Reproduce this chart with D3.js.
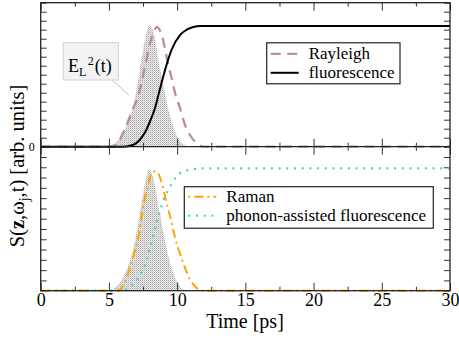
<!DOCTYPE html>
<html lang="en">
<head>
    <meta charset="UTF-8">
    <title>Rayleigh, Raman and fluorescence signals</title>
    <style>
        body { margin: 0; background: #fff; }
        svg { display: block; }
    </style>
</head>
<body>
<svg width="459" height="338"></svg>

<script src="https://cdn.jsdelivr.net/npm/d3@7"></script>
<script>
    // values, [time in ps, signal in arb. units]
    const laserTop = [[0,0],[4.8,0],[5.3,0.03],[5.81,0.09],[6.1,0.17],[6.42,0.28],[6.79,0.46],[7.04,0.65],[7.28,0.87],[7.52,1.09],[7.77,1.28],[7.96,1.35],[8.26,1.28],[8.5,1.09],[8.74,0.87],[8.99,0.69],[9.23,0.5],[9.6,0.28],[9.85,0.17],[10.09,0.09],[10.5,0.025],[10.94,0],[30,0]];
    const rayleigh = [[0,0],[5.3,0],[5.8,0.08],[6.18,0.2],[6.79,0.43],[7.16,0.57],[7.4,0.72],[7.7,0.93],[8.0,1.14],[8.26,1.26],[8.5,1.33],[8.87,1.24],[9.11,1.09],[9.35,0.91],[9.6,0.76],[9.84,0.6],[10.21,0.43],[10.58,0.24],[10.94,0.13],[11.43,0.04],[11.9,0],[30,0]];
    const fluorescence = [[0,0],[6.0,0],[6.55,0.01],[7.0,0.04],[7.28,0.08],[7.65,0.16],[8.01,0.28],[8.38,0.43],[8.74,0.64],[9.11,0.85],[9.6,1.08],[10.21,1.24],[10.7,1.3],[11.19,1.33],[11.7,1.34],[30,1.34]];

    const laserBottom = [[0,0],[5.0,0],[5.4,0.025],[5.81,0.08],[6.1,0.15],[6.42,0.25],[6.79,0.41],[7.04,0.58],[7.28,0.77],[7.52,0.96],[7.77,1.12],[7.92,1.18],[8.2,1.12],[8.45,0.96],[8.7,0.77],[8.95,0.6],[9.2,0.43],[9.55,0.24],[9.8,0.14],[10.05,0.07],[10.4,0.02],[10.8,0],[30,0]];
    const raman = [[0,0],[5.6,0],[5.81,0.01],[6.42,0.17],[6.79,0.33],[7.16,0.525],[7.4,0.72],[7.65,0.91],[7.89,1.04],[8.14,1.14],[8.35,1.16],[8.6,1.14],[8.87,1.05],[9.11,0.92],[9.35,0.79],[9.6,0.66],[9.84,0.52],[10.21,0.36],[10.58,0.22],[10.94,0.11],[11.31,0.045],[11.7,0],[30,0]];
    const phonon = [[0,0],[5.9,0],[6.67,0.05],[7.28,0.15],[7.77,0.3],[8.01,0.41],[8.26,0.55],[8.5,0.67],[8.74,0.77],[8.99,0.88],[9.35,0.98],[9.6,1.04],[9.97,1.11],[10.45,1.16],[11.18,1.18],[12,1.19],[30,1.19]];

    const timeTicks = [0, 5, 10, 15, 20, 25, 30];
    const timeMinor = [2.5, 7.5, 12.5, 17.5, 22.5, 27.5];
    const topTicks = d3.range(0, 1.65, 0.1);
    const bottomTicks = d3.range(0, 1.45, 0.1);

    const pl = 40.7, pr = 450, pt = 2.7, pm = 146.7, pb = 290.7;
    const font = "'Liberation Serif', 'Times New Roman', serif";

    const x = d3.scaleLinear().domain([0, 30]).range([pl, pr]);
    const yTop = d3.scaleLinear().domain([0, 1.6]).range([pm, pt]);
    const yBot = d3.scaleLinear().domain([0, 1.4]).range([pb, pm]);

    const svg = d3.select("svg").style("font-family", font);

    // stipple used for the laser pulse
    const pat = svg.append("defs").append("pattern")
        .attr("id", "stipple")
        .attr("width", 2).attr("height", 2)
        .attr("patternUnits", "userSpaceOnUse");
    pat.append("rect").attr("width", 2).attr("height", 2).attr("fill", "#ececec");
    pat.append("rect").attr("width", 1).attr("height", 1).attr("fill", "#a6a6a6");
    pat.append("rect").attr("x", 1).attr("y", 1).attr("width", 1).attr("height", 1).attr("fill", "#cdcdcd");

    const line = y => d3.line().x(d => x(d[0])).y(d => y(d[1])).curve(d3.curveMonotoneX);
    const area = y => d3.area().x(d => x(d[0])).y0(y(0)).y1(d => y(d[1])).curve(d3.curveMonotoneX);

    // laser pulses
    svg.append("path").datum(laserTop).attr("d", area(yTop)).attr("fill", "url(#stipple)");
    svg.append("path").datum(laserBottom).attr("d", area(yBot)).attr("fill", "url(#stipple)");

    // ticks, all pointing inward
    function ticks(axis, tx, ty) {
        svg.append("g")
            .attr("transform", `translate(${tx},${ty})`)
            .call(axis)
            .call(g => g.select(".domain").remove())
            .call(g => g.selectAll("line").attr("stroke", "#333"));
    }
    [[pt, pm], [pm, pb]].forEach(([t, b]) => {
        ticks(d3.axisTop(x).tickValues(timeTicks).tickSize(-8).tickFormat(""), 0, t);
        ticks(d3.axisTop(x).tickValues(timeMinor).tickSize(-4).tickFormat(""), 0, t);
        ticks(d3.axisBottom(x).tickValues(timeTicks).tickSize(-8).tickFormat(""), 0, b);
        ticks(d3.axisBottom(x).tickValues(timeMinor).tickSize(-4).tickFormat(""), 0, b);
    });
    ticks(d3.axisLeft(yTop).tickValues(topTicks).tickSize(-6).tickFormat(""), pl, 0);
    ticks(d3.axisRight(yTop).tickValues(topTicks).tickSize(-6).tickFormat(""), pr, 0);
    ticks(d3.axisLeft(yBot).tickValues(bottomTicks).tickSize(-6).tickFormat(""), pl, 0);
    ticks(d3.axisRight(yBot).tickValues(bottomTicks).tickSize(-6).tickFormat(""), pr, 0);

    // curves
    svg.append("path").datum(rayleigh).attr("d", line(yTop))
        .attr("fill", "none").attr("stroke", "#bc8f8f").attr("stroke-width", 2.3)
        .attr("stroke-dasharray", "10,6.5");
    svg.append("path").datum(fluorescence).attr("d", line(yTop))
        .attr("fill", "none").attr("stroke", "#000").attr("stroke-width", 2);
    svg.append("path").datum(phonon).attr("d", line(yBot))
        .attr("fill", "none").attr("stroke", "#48d1cc").attr("stroke-width", 2.3)
        .attr("stroke-dasharray", "2,5.7");
    svg.append("path").datum(raman).attr("d", line(yBot))
        .attr("fill", "none").attr("stroke", "#ffa500").attr("stroke-width", 2)
        .attr("stroke-dasharray", "9,4,2,4");

    // frame
    svg.append("rect")
        .attr("x", pl).attr("y", pt)
        .attr("width", pr - pl).attr("height", pb - pt)
        .attr("fill", "none").attr("stroke", "#222").attr("stroke-width", 1.3);
    svg.append("line")
        .attr("x1", pl).attr("x2", pr).attr("y1", pm).attr("y2", pm)
        .attr("stroke", "#222").attr("stroke-width", 1.3);

    // tick labels
    svg.append("g")
        .attr("transform", `translate(0,${pb})`)
        .call(d3.axisBottom(x).tickValues(timeTicks).tickSize(0).tickPadding(3))
        .call(g => g.select(".domain").remove())
        .call(g => g.selectAll("text").attr("font-size", 18).attr("font-family", font).attr("fill", "#000"));
    svg.append("g")
        .attr("transform", `translate(${pl},0)`)
        .call(d3.axisLeft(yTop).tickValues([0]).tickSize(0).tickPadding(6).tickFormat(d3.format("d")))
        .call(g => g.select(".domain").remove())
        .call(g => g.selectAll("text").attr("font-size", 12).attr("font-family", font).attr("fill", "#000"));

    // axis titles
    svg.append("text")
        .attr("x", 245).attr("y", 327.5)
        .attr("text-anchor", "middle")
        .attr("font-size", 20)
        .text("Time [ps]");

    const ylab = svg.append("text")
        .attr("transform", "translate(24,166) rotate(-90)")
        .attr("text-anchor", "middle")
        .attr("font-size", 20.5);
    ylab.append("tspan").text("S(");
    ylab.append("tspan").attr("font-weight", "bold").text("z");
    ylab.append("tspan").text(",ω");
    ylab.append("tspan").attr("font-size", 14).attr("dy", 5).text("j");
    ylab.append("tspan").attr("dy", -5).text(",t) [arb. units]");

    // E_L^2(t) callout
    svg.append("line")
        .attr("x1", 112).attr("y1", 80).attr("x2", 129).attr("y2", 95)
        .attr("stroke", "#c4c4c4").attr("stroke-width", 1);
    svg.append("rect")
        .attr("x", 63.3).attr("y", 42.7).attr("width", 55).attr("height", 37.3)
        .attr("fill", "#f3f3f3").attr("stroke", "#d2d2d2");
    const el = svg.append("text").attr("x", 68).attr("y", 71.7).attr("font-size", 18);
    el.append("tspan").text("E");
    el.append("tspan").attr("font-size", 12).attr("dy", 4).text("L");
    el.append("tspan").attr("font-size", 12).attr("dx", 1.5).attr("dy", -11).text("2");
    el.append("tspan").attr("dx", 1).attr("dy", 7).text("(t)");

    // legends
    function legend(box, items) {
        const g = svg.append("g");
        g.append("rect")
            .attr("x", box[0]).attr("y", box[1]).attr("width", box[2]).attr("height", box[3])
            .attr("fill", "#fff").attr("stroke", "#222").attr("stroke-width", 1.2);
        items.forEach(it => {
            g.append("line")
                .attr("x1", box[0] + 4).attr("x2", box[0] + 32)
                .attr("y1", it.y).attr("y2", it.y)
                .attr("stroke", it.color).attr("stroke-width", it.width)
                .attr("stroke-dasharray", it.dash);
            g.append("text")
                .attr("x", box[0] + 42).attr("y", it.y + 5.5)
                .attr("font-size", 17)
                .attr("font-family", font)
                .text(it.name);
        });
    }
    legend([266.7, 42.8, 133.3, 41], [
        {name: "Rayleigh", y: 53.8, color: "#bc8f8f", width: 2.3, dash: "10,6.5"},
        {name: "fluorescence", y: 72.8, color: "#000", width: 2, dash: null}
    ]);
    legend([184.3, 186.7, 249, 41.5], [
        {name: "Raman", y: 196.8, color: "#ffa500", width: 2, dash: "2,4,9,4"},
        {name: "phonon-assisted fluorescence", y: 215.6, color: "#48d1cc", width: 2.3, dash: "2,5.7"}
    ]);
</script>
</body>
</html>
